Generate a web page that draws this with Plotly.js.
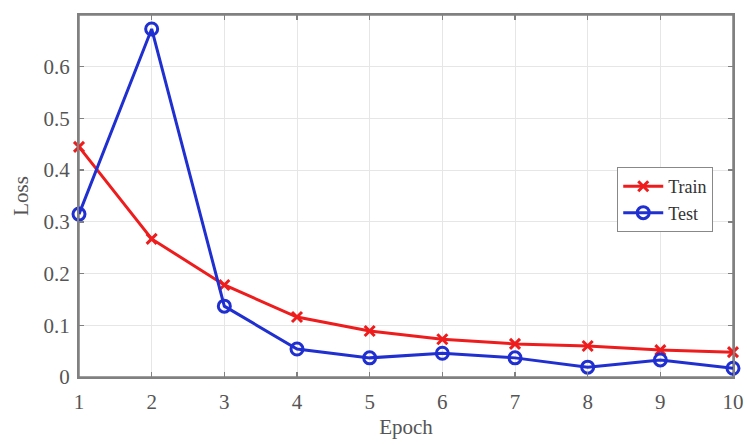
<!DOCTYPE html>
<html><head><meta charset="utf-8">
<script src="https://cdn.plot.ly/plotly-3.0.1.min.js"></script>
<style>html,body{margin:0;padding:0;background:#fff}#c{width:747px;height:445px}</style>
</head><body><div id="c"></div>
<script>
const epochs = [1,2,3,4,5,6,7,8,9,10];
const trainLoss = [0.445,0.267,0.178,0.116,0.089,0.073,0.064,0.060,0.052,0.048];
const testLoss = [0.315,0.673,0.137,0.054,0.037,0.046,0.037,0.019,0.033,0.017];
const seriesNames = ['Train','Test'];
const fnt = 'Liberation Serif, Times New Roman, serif';
const traces = [
  {x: epochs, y: trainLoss, name: seriesNames[0], mode:'lines+markers', type:'scatter', cliponaxis:false,
   line:{color:'#ee1c1c', width:3}, marker:{symbol:'x-thin-open', size:10, color:'#ee1c1c', line:{width:3, color:'#ee1c1c'}}},
  {x: epochs, y: testLoss, name: seriesNames[1], mode:'lines+markers', type:'scatter', cliponaxis:false,
   line:{color:'#1f2fd0', width:3}, marker:{symbol:'circle-open', size:12, color:'#1f2fd0', line:{width:3, color:'#1f2fd0'}}}
];
const axCommon = {showline:true, linecolor:'#808080', linewidth:2, mirror:'ticks', ticks:'inside', ticklen:5, tickcolor:'#808080', tickwidth:1.5,
  showgrid:true, gridcolor:'#e6e6e6', gridwidth:1, zeroline:false, tickfont:{family:fnt, size:21, color:'#555'}};
const layout = {
  width:747, height:445, margin:{l:79, r:14, t:15, b:68},
  paper_bgcolor:'#fff', plot_bgcolor:'#fff', showlegend:true,
  font:{family:fnt, color:'#555'},
  xaxis: Object.assign({}, axCommon, {range:[1,10], dtick:1, ticklabelstandoff:5, title:{text:'Epoch', font:{family:fnt, size:21, color:'#555'}, standoff:6}}),
  yaxis: Object.assign({}, axCommon, {range:[0,0.7], tickvals:[0,0.1,0.2,0.3,0.4,0.5,0.6], ticktext:['0','0.1','0.2','0.3','0.4','0.5','0.6'], ticklabelstandoff:3, title:{text:'Loss', font:{family:fnt, size:21, color:'#555'}, standoff:9}}),
  legend:{x:0.823, y:0.58, xanchor:'left', yanchor:'top', bgcolor:'#fff', bordercolor:'#888', borderwidth:1,
    font:{family:fnt, size:18, color:'#333'}, tracegroupgap:0, itemwidth:40},
  shapes:[{type:'rect', xref:'paper', yref:'paper', x0:0, y0:0, x1:1, y1:1, line:{color:'#808080', width:1.5}, layer:'below'}]
};
Plotly.newPlot('c', traces, layout, {displayModeBar:false, staticPlot:true});
</script></body></html>
